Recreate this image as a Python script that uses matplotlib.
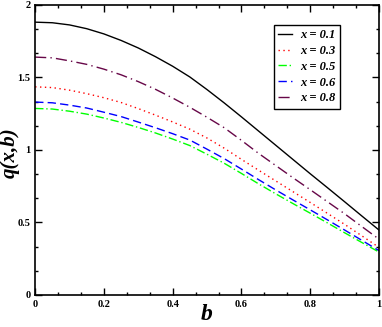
import matplotlib
matplotlib.use('Agg')
import matplotlib.pyplot as plt
from matplotlib.ticker import MultipleLocator

b = [0.00, 0.05, 0.10, 0.15, 0.20, 0.25, 0.30, 0.35, 0.40, 0.45, 0.50,
     0.55, 0.60, 0.65, 0.70, 0.75, 0.80, 0.85, 0.90, 0.95, 1.00]
q_01 = [1.881, 1.877, 1.862, 1.836, 1.800, 1.755, 1.703, 1.643, 1.577, 1.503, 1.416,
        1.324, 1.228, 1.130, 1.032, 0.934, 0.836, 0.740, 0.643, 0.545, 0.448]
q_03 = [1.435, 1.430, 1.412, 1.388, 1.360, 1.327, 1.285, 1.240, 1.193, 1.143, 1.082,
        1.012, 0.935, 0.860, 0.786, 0.712, 0.638, 0.563, 0.487, 0.408, 0.328]
q_05 = [1.286, 1.282, 1.267, 1.247, 1.220, 1.190, 1.155, 1.117, 1.075, 1.030, 0.970,
        0.908, 0.838, 0.766, 0.697, 0.630, 0.564, 0.497, 0.429, 0.362, 0.296]
q_06 = [1.330, 1.325, 1.309, 1.289, 1.260, 1.230, 1.192, 1.153, 1.112, 1.068, 1.005,
        0.940, 0.868, 0.795, 0.724, 0.655, 0.587, 0.518, 0.448, 0.377, 0.306]
q_08 = [1.640, 1.635, 1.614, 1.590, 1.557, 1.518, 1.471, 1.418, 1.358, 1.294, 1.225,
        1.153, 1.066, 0.976, 0.892, 0.808, 0.726, 0.643, 0.560, 0.472, 0.385]
labels = ['x = 0.1', 'x = 0.3', 'x = 0.5', 'x = 0.6', 'x = 0.8']

plt.rcParams['font.family'] = 'Liberation Serif'

fig = plt.figure(figsize=(3.82, 3.27), dpi=100)
ax = fig.add_axes([0.092, 0.098, 0.900, 0.887])

ax.plot(b, q_01, color='black', linestyle='-', lw=1.0, label=labels[0])
ax.plot(b, q_03, color='red', linestyle=(0, (1, 2.5)), lw=1.0, label=labels[1])
ax.plot(b, q_05, color='#00ff00', linestyle=(0, (6, 2, 1, 2)), lw=1.0, label=labels[2])
ax.plot(b, q_06, color='blue', linestyle=(0, (6, 3)), lw=1.0, label=labels[3])
ax.plot(b, q_08, color='#670748', linestyle=(0, (8, 3, 1, 3)), lw=1.0, label=labels[4])

ax.set_xlim(0, 1)
ax.set_ylim(0, 2)
ax.xaxis.set_major_locator(MultipleLocator(0.2))
ax.xaxis.set_minor_locator(MultipleLocator(0.2 / 3))
ax.yaxis.set_major_locator(MultipleLocator(0.5))
ax.yaxis.set_minor_locator(MultipleLocator(0.5 / 3))
ax.xaxis.set_major_formatter(plt.FuncFormatter(lambda v, p: '%g' % round(v, 2)))
ax.yaxis.set_major_formatter(plt.FuncFormatter(lambda v, p: '%g' % round(v, 2)))
ax.tick_params(which='both', direction='in', top=True, right=True, labelsize=7.5, width=1.0)
ax.tick_params(which='major', length=5)
ax.tick_params(which='minor', length=2.5)
for t in ax.get_xticklabels() + ax.get_yticklabels():
    t.set_fontweight('bold')
for s in ax.spines.values():
    s.set_linewidth(1.2)

ax.set_xlabel('b', fontsize=17, fontweight='bold', style='italic')
ax.set_ylabel('q(x,b)', fontsize=15, fontweight='bold', style='italic')
ax.xaxis.set_label_coords(0.5, -0.032)
ax.yaxis.set_label_coords(-0.044, 0.49)

leg = ax.legend(loc='upper right', bbox_to_anchor=(0.887, 0.931), fancybox=False,
                edgecolor='black', handlelength=1.1, handletextpad=0.7,
                labelspacing=0.3, borderpad=0.35, borderaxespad=0,
                prop={'size': 9, 'weight': 'bold', 'style': 'italic'})
leg.get_frame().set_linewidth(1.0)
leg.get_frame().set_alpha(1)

fig.savefig('out.png', dpi=100)
